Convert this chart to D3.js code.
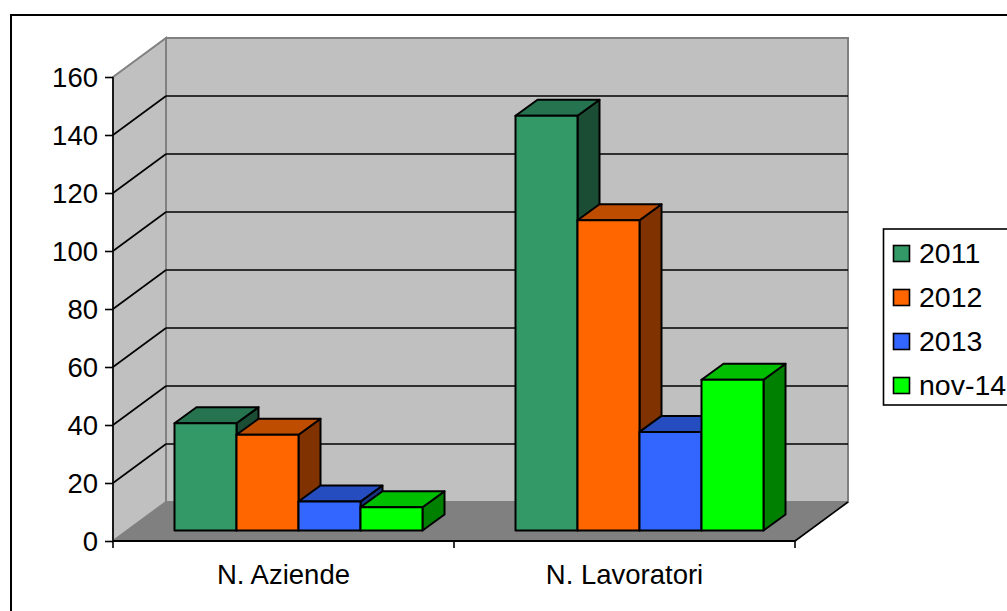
<!DOCTYPE html>
<html>
<head>
	<title></title>
	<meta charset="utf-8">
	<script src="https://d3js.org/d3.v7.min.js"></script>
	<style>
		html, body { margin: 0; padding: 0; background: #fff; overflow: hidden; }
		text { font-family: "Liberation Sans", Arial, sans-serif; fill: #000; }
	</style>
</head>
<body>
<script type="text/javascript">
	var categories = ["N. Aziende", "N. Lavoratori"]
	var seriesNames = ["2011", "2012", "2013", "nov-14"]
	var values2011 = [37, 143]
	var values2012 = [33, 107]
	var values2013 = [10, 34]
	var valuesNov14 = [8, 52]
	var yTicks = [0, 20, 40, 60, 80, 100, 120, 140, 160]
	var colors = ["#339966", "#ff6600", "#3366ff", "#00ff00"]
	var topColors = ["#267350", "#bf4d00", "#264dbf", "#00bf00"]
	var sideColors = ["#1a4d33", "#803300", "#1a3380", "#008000"]

	var allValues = [values2011, values2012, values2013, valuesNov14]
	var fontSize = "27.5px"

	var svg = d3.select("body").append("svg")
		.attr("width", 1007)
		.attr("height", 611)

	// outer frame runs off the right and bottom of the picture
	svg.append("rect").attr("x", 11).attr("y", 15).attr("width", 1100).attr("height", 700)
		.attr("fill", "#fff").attr("stroke", "#000").attr("stroke-width", 2)

	var y = d3.scaleLinear().domain([0, 160]).range([541, 77])
	var x = d3.scaleBand().domain(categories).range([113, 795])

	// depth of the whole box and of the bars
	var depthX = 53, depthY = 39
	var barDepthX = 22, barDepthY = 16
	var floorOffX = 15, floorOffY = 10.5
	var left = x.range()[0], right = x.range()[1]

	function pts(a) { return a.map(function (p) { return p.join(",") }).join(" ") }

	// back wall
	svg.append("polygon")
		.attr("points", pts([[left + depthX, y(160) - depthY], [right + depthX, y(160) - depthY], [right + depthX, y(0) - depthY], [left + depthX, y(0) - depthY]]))
		.attr("fill", "#c0c0c0").attr("stroke", "#808080").attr("stroke-width", 2)
	// side wall
	svg.append("polygon")
		.attr("points", pts([[left, y(160)], [left + depthX, y(160) - depthY], [left + depthX, y(0) - depthY], [left, y(0)]]))
		.attr("fill", "#c0c0c0").attr("stroke", "#808080").attr("stroke-width", 2)
	// floor
	svg.append("polygon")
		.attr("points", pts([[left, y(0)], [left + depthX, y(0) - depthY], [right + depthX, y(0) - depthY], [right, y(0)]]))
		.attr("fill", "#808080").attr("stroke", "#808080").attr("stroke-width", 1)

	// grid lines, back wall and side wall
	var gridTicks = yTicks.filter(function (d) { return d > 0 && d < 160 })
	svg.selectAll(".gridBack").data(gridTicks).enter().append("line")
		.attr("x1", left + depthX).attr("x2", right + depthX)
		.attr("y1", function (d) { return y(d) - depthY })
		.attr("y2", function (d) { return y(d) - depthY })
		.attr("stroke", "#000").attr("stroke-width", 1.6)
	svg.selectAll(".gridSide").data(gridTicks).enter().append("line")
		.attr("x1", left).attr("x2", left + depthX)
		.attr("y1", function (d) { return y(d) })
		.attr("y2", function (d) { return y(d) - depthY })
		.attr("stroke", "#000").attr("stroke-width", 1.6)

	// floor right edge
	svg.append("line").attr("x1", right).attr("x2", right + depthX)
		.attr("y1", y(0)).attr("y2", y(0) - depthY)
		.attr("stroke", "#000").attr("stroke-width", 1.6)

	// axes
	var yAxis = d3.axisLeft(y).tickValues(yTicks).tickSize(8).tickPadding(7)
	var gy = svg.append("g").attr("transform", "translate(" + left + ",0)").call(yAxis)
	var xAxis = d3.axisBottom(x).tickSize(0).tickPadding(23)
	var gx = svg.append("g").attr("transform", "translate(0," + y(0) + ")").call(xAxis)
	gy.selectAll("text").style("font-size", fontSize).attr("dy", "0.36em")
	gx.selectAll("text").style("font-size", fontSize)
	gy.selectAll("line, path").attr("stroke", "#000").attr("stroke-width", 1.6)
	gx.selectAll("path").attr("stroke", "#000").attr("stroke-width", 2)
	gy.select("path").attr("d", "M0," + y(160) + "V" + y(0))
	gx.select("path").attr("d", "M" + left + ",0H" + right)

	// x ticks sit between the categories
	var xTickPos = [left, x(categories[1]), right]
	svg.selectAll(".xTick").data(xTickPos).enter().append("line")
		.attr("x1", function (d) { return d }).attr("x2", function (d) { return d })
		.attr("y1", y(0)).attr("y2", y(0) + 7)
		.attr("stroke", "#000").attr("stroke-width", 1.6)

	// bars, left to right so later ones cover the sides of earlier ones
	var barWidth = 62
	var inner = d3.scaleBand().domain(seriesNames).range([0, barWidth * 4])
	var gapSide = (x.bandwidth() - barWidth * 4) / 2

	categories.forEach(function (cat, c) {
		seriesNames.forEach(function (name, s) {
			var v = allValues[s][c]
			var x0 = x(cat) + floorOffX + gapSide + inner(name)
			var x1 = x0 + barWidth
			var yBase = y(0) - floorOffY
			var yTop = y(v) - floorOffY
			var g = svg.append("g").attr("stroke", "#000").attr("stroke-width", 2).attr("stroke-linejoin", "round")
			g.append("polygon").attr("fill", sideColors[s])
				.attr("points", pts([[x1, yTop], [x1 + barDepthX, yTop - barDepthY], [x1 + barDepthX, yBase - barDepthY], [x1, yBase]]))
			g.append("polygon").attr("fill", topColors[s])
				.attr("points", pts([[x0, yTop], [x0 + barDepthX, yTop - barDepthY], [x1 + barDepthX, yTop - barDepthY], [x1, yTop]]))
			g.append("rect").attr("fill", colors[s])
				.attr("x", x0).attr("y", yTop).attr("width", barWidth).attr("height", yBase - yTop)
		})
	})

	// legend
	var legend = svg.append("g")
	legend.append("rect").attr("x", 883.5).attr("y", 229).attr("width", 200).attr("height", 176)
		.attr("fill", "#fff").attr("stroke", "#000").attr("stroke-width", 1.6)
	var legendY = d3.scalePoint().domain(seriesNames).range([253.5, 385.5])
	seriesNames.forEach(function (name, s) {
		legend.append("rect").attr("x", 893.5).attr("y", legendY(name) - 8).attr("width", 16).attr("height", 16)
			.attr("fill", colors[s]).attr("stroke", "#000").attr("stroke-width", 1.6)
		legend.append("text").attr("x", 919).attr("y", legendY(name) + 9.5).style("font-size", "28.5px").text(name)
	})
</script>
</body>
</html>
